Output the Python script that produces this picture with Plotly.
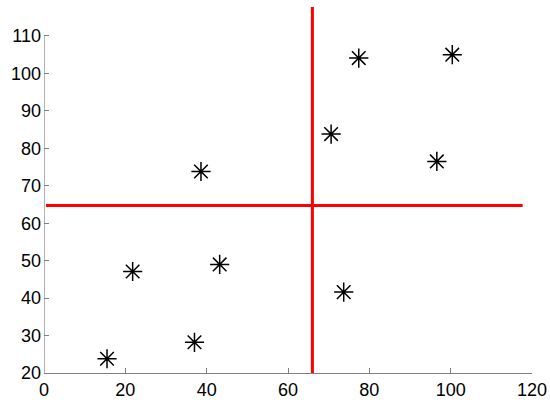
import plotly.graph_objects as go

# scatter points
pts_x = [15.5, 37.0, 21.8, 43.2, 38.6, 73.7, 70.6, 77.4, 100.4, 96.6]
pts_y = [23.8, 28.2, 47.1, 49.0, 73.8, 41.6, 83.8, 104.1, 105.0, 76.5]

# red dividing lines
hline_x = [0.5, 117.7]
hline_y = [64.7, 64.7]
vline_x = [66.0, 66.0]
vline_y = [20.0, 117.7]

x_ticks = [0, 20, 40, 60, 80, 100, 120]
y_ticks = [20, 30, 40, 50, 60, 70, 80, 90, 100, 110]

fig = go.Figure()
fig.add_trace(go.Scatter(x=hline_x, y=hline_y, mode="lines",
                         line=dict(color="#ff0000", width=3), showlegend=False))
fig.add_trace(go.Scatter(x=vline_x, y=vline_y, mode="lines",
                         line=dict(color="#ff0000", width=3), showlegend=False))
fig.add_trace(go.Scatter(x=pts_x, y=pts_y, mode="markers",
                         marker=dict(symbol="asterisk-open", size=16, color="black",
                                     line=dict(color="black", width=1.5)),
                         showlegend=False, cliponaxis=False))

# y axis line only from 20 to 110
fig.add_shape(type="line", xref="x", yref="y", x0=0, x1=0,
              y0=y_ticks[0], y1=y_ticks[-1], line=dict(color="#808080", width=1.2),
              layer="above")

tick_font = dict(family="Liberation Sans, Arial, sans-serif", size=18, color="black")

fig.update_layout(
    width=550, height=404,
    margin=dict(l=44, r=18, t=6, b=31),
    paper_bgcolor="white", plot_bgcolor="white",
    font=tick_font,
    xaxis=dict(range=[0, 120], tickvals=x_ticks, ticks="inside", ticklen=5,
               tickcolor="#808080", showline=True, linecolor="#808080", linewidth=1.2,
               showgrid=False, zeroline=False, automargin=False, tickfont=tick_font),
    yaxis=dict(range=[20, 118], tickvals=y_ticks, ticks="inside", ticklen=5,
               tickcolor="#808080", showline=False, ticklabelstandoff=2,
               showgrid=False, zeroline=False, automargin=False, tickfont=tick_font),
)

fig.write_html("out.html", config={"displayModeBar": False},
               post_script="document.body.style.margin='0';document.body.style.padding='0';")
